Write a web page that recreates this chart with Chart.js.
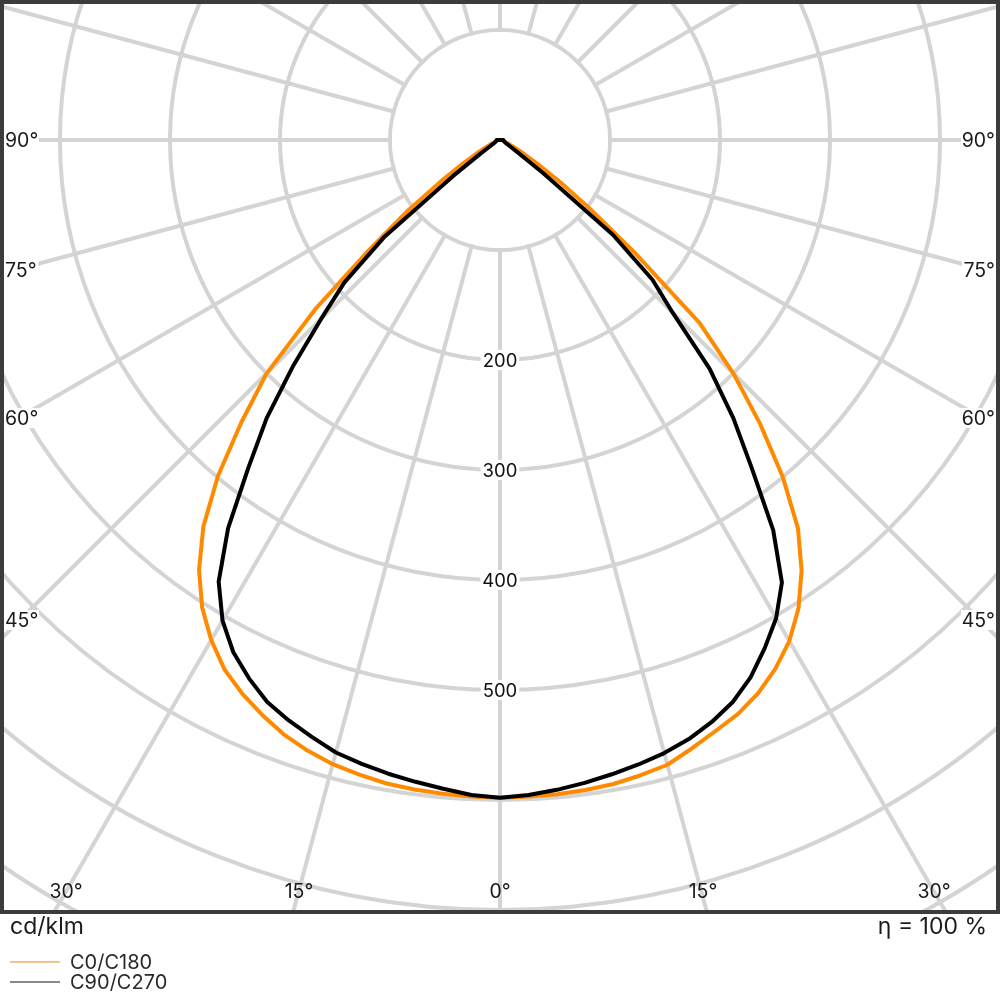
<!DOCTYPE html>
<html lang="en">
<head>
  <meta charset="UTF-8" />
  <title>Luminous intensity distribution</title>
  <script src="https://cdn.jsdelivr.net/npm/chart.js"></script>
  <style>
    body {
      margin: 0;
      background: #fff;
      font-family: 'Inter', sans-serif;
      color: #1a1a1a;
    }

    .page {
      position: relative;
      width: 1000px;
      height: 1000px;
      overflow: hidden;
    }

    .plot {
      position: absolute;
      left: 0;
      top: 0;
      width: 1000px;
      height: 914px;
      overflow: hidden;
    }

    .plot canvas {
      position: absolute;
      left: -490px;
      top: -850px;
    }

    .frame {
      position: absolute;
      inset: 0;
      border: 4px solid #3c3c3c;
      box-sizing: border-box;
      pointer-events: none;
    }

    .ang {
      position: absolute;
      font-size: 19.5px;
      line-height: 20px;
      color: #1a1a1a;
    }

    .ang.side {
      background: #fff;
      padding: 0 1px;
      transform: translateY(-50%);
    }

    .ang.bottom {
      transform: translate(-50%, -50%);
    }

    .unit, .eta {
      position: absolute;
      line-height: 1;
      font-size: 23px;
    }

    .unit { left: 10px; top: 915px; }
    .eta { right: 13px; top: 915px; }

    .legend-item {
      position: absolute;
      left: 10px;
      font-size: 20px;
      line-height: 1;
      color: #2a2a2a;
    }

    .legend-item .swatch {
      position: absolute;
      left: 0;
      width: 50px;
      height: 2px;
    }

    .legend-item span.txt {
      position: absolute;
      left: 60px;
      top: 0;
      white-space: nowrap;
    }
  </style>
</head>
<body>
  <div class="page">
    <div class="plot">
      <canvas id="ldc" width="1980" height="1980"></canvas>

      <span class="ang side" style="left:4px; top:140px;">90°</span>
      <span class="ang side" style="left:4px; top:270px;">75°</span>
      <span class="ang side" style="left:4px; top:418px;">60°</span>
      <span class="ang side" style="left:4px; top:620px;">45°</span>
      <span class="ang side" style="right:4px; top:140px;">90°</span>
      <span class="ang side" style="right:4px; top:270px;">75°</span>
      <span class="ang side" style="right:4px; top:418px;">60°</span>
      <span class="ang side" style="right:4px; top:620px;">45°</span>

      <span class="ang bottom" style="left:66px; top:891px;">30°</span>
      <span class="ang bottom" style="left:299px; top:891px;">15°</span>
      <span class="ang bottom" style="left:500px; top:891px;">0°</span>
      <span class="ang bottom" style="left:703px; top:891px;">15°</span>
      <span class="ang bottom" style="left:934px; top:891px;">30°</span>

      <div class="frame"></div>
    </div>

    <div class="unit">cd/klm</div>
    <div class="eta">η = 100 %</div>
    <div id="legend"></div>
  </div>

  <script>
    // gamma angles (deg from nadir), one value per half-plane
    const gamma = [0, 2.5, 5, 7.5, 10, 12.5, 15, 17.5, 20, 22.5, 25, 27.5, 30, 32.5, 35, 37.5,
      40, 42.5, 45, 47.5, 50, 52.5, 55, 57.5, 60, 62.5, 65, 67.5, 70, 72.5, 75, 77.5,
      80, 82.5, 85, 87.5, 90];

    // C0/C180 plane (orange), cd/klm
    const c0 = [598, 597.5, 597, 596, 594.5, 591.5, 588, 580, 572, 565, 555, 542, 526, 505, 478, 445,
      400, 350, 300, 246, 162, 105, 67, 40, 25, 16, 10, 7, 5, 4, 4, 3,
      3, 3, 3, 3, 3];
    const c180 = [598, 597.5, 596.5, 595.5, 594, 591, 587.5, 582, 575, 565.5, 555, 542.5, 525, 504, 477, 443,
      399, 348, 300, 228, 155, 106, 66, 40, 25, 16, 10, 7, 5, 4, 4, 3,
      3, 3, 3, 3, 3];

    // C90/C270 plane (black)
    const c90 = [598, 596, 593, 589.5, 585.5, 581.5, 577, 571, 563, 553, 539, 521, 502, 477, 433, 376,
      330, 282, 222, 188, 134, 50, 20, 11, 8, 6, 5, 5, 4, 4, 4, 3,
      3, 3, 3, 3, 3];
    const c270 = [598, 596, 592, 588.5, 585, 581, 576.5, 569, 561.5, 553, 540, 525, 504.5, 476, 431, 376,
      330, 278, 230, 192, 138, 54, 22, 11, 8, 6, 5, 5, 4, 4, 4, 3,
      3, 3, 3, 3, 3];

    const valueTicks = [200, 300, 400, 500];

    const seriesNames = ['C0/C180', 'C90/C270'];
    const seriesColors = ['#ff8a00', '#000000'];
    const legendColors = ['#f6c28e', '#8a8a8a'];

    // full circle of categories, clockwise from nadir (left half first)
    const step = gamma[1] - gamma[0];
    const count = Math.round(360 / step);
    const ringLabels = [];
    for (let i = 0; i < count; i++) ringLabels.push(i * step);

    function ring(left, right) {
      const out = new Array(count).fill(null);
      left.forEach((v, k) => { out[k] = v; });
      right.forEach((v, k) => { if (k > 0) out[count - k] = v; });
      return out;
    }

    const innerDisc = {
      id: 'innerDisc',
      beforeDatasetsDraw(chart) {
        const s = chart.scales.r;
        const ctx = chart.ctx;
        ctx.save();
        ctx.fillStyle = '#fff';
        ctx.beginPath();
        ctx.arc(s.xCenter, s.yCenter, s.getDistanceFromCenterForValue(100) - 2, 0, Math.PI * 2);
        ctx.fill();

        ctx.font = '18.5px Inter, sans-serif';
        ctx.textAlign = 'center';
        ctx.textBaseline = 'middle';
        valueTicks.forEach(v => {
          const p = s.getPointPosition(0, s.getDistanceFromCenterForValue(v));
          const label = String(v);
          const w = ctx.measureText(label).width;
          ctx.fillStyle = '#fff';
          ctx.fillRect(p.x - w / 2 - 2, p.y - 10, w + 4, 20);
          ctx.fillStyle = '#111';
          ctx.fillText(label, p.x, p.y + 1);
        });
        ctx.restore();
      }
    };

    new Chart(document.getElementById('ldc'), {
      type: 'radar',
      data: {
        labels: ringLabels,
        datasets: [
          {
            label: seriesNames[1],
            data: ring(c270, c90),
            borderColor: seriesColors[1],
            order: 0
          },
          {
            label: seriesNames[0],
            data: ring(c180, c0),
            borderColor: seriesColors[0],
            order: 1
          }
        ]
      },
      options: {
        responsive: false,
        animation: false,
        devicePixelRatio: 1,
        spanGaps: true,
        layout: { padding: 0 },
        plugins: {
          legend: { display: false },
          tooltip: { enabled: false }
        },
        elements: {
          point: { radius: 0, hoverRadius: 0 },
          line: {
            borderWidth: 4,
            tension: 0,
            fill: false,
            borderJoinStyle: 'round',
            borderCapStyle: 'round'
          }
        },
        scales: {
          r: {
            min: 0,
            max: 900,
            startAngle: 180,
            ticks: { display: false, stepSize: 100 },
            pointLabels: { display: false },
            grid: { circular: true, color: '#d4d4d4', lineWidth: 4 },
            angleLines: {
              color: '#d4d4d4',
              lineWidth: c => (c.index % 6 === 0 ? 4 : 0)
            }
          }
        }
      },
      plugins: [innerDisc]
    });

    // legend below the frame
    const legend = document.getElementById('legend');
    seriesNames.forEach((name, i) => {
      const item = document.createElement('div');
      item.className = 'legend-item';
      item.style.top = (952 + i * 19.5) + 'px';
      item.innerHTML = `<div class="swatch" style="top:9px; background:${legendColors[i]}"></div><span class="txt">${name}</span>`;
      legend.appendChild(item);
    });
  </script>
</body>
</html>
